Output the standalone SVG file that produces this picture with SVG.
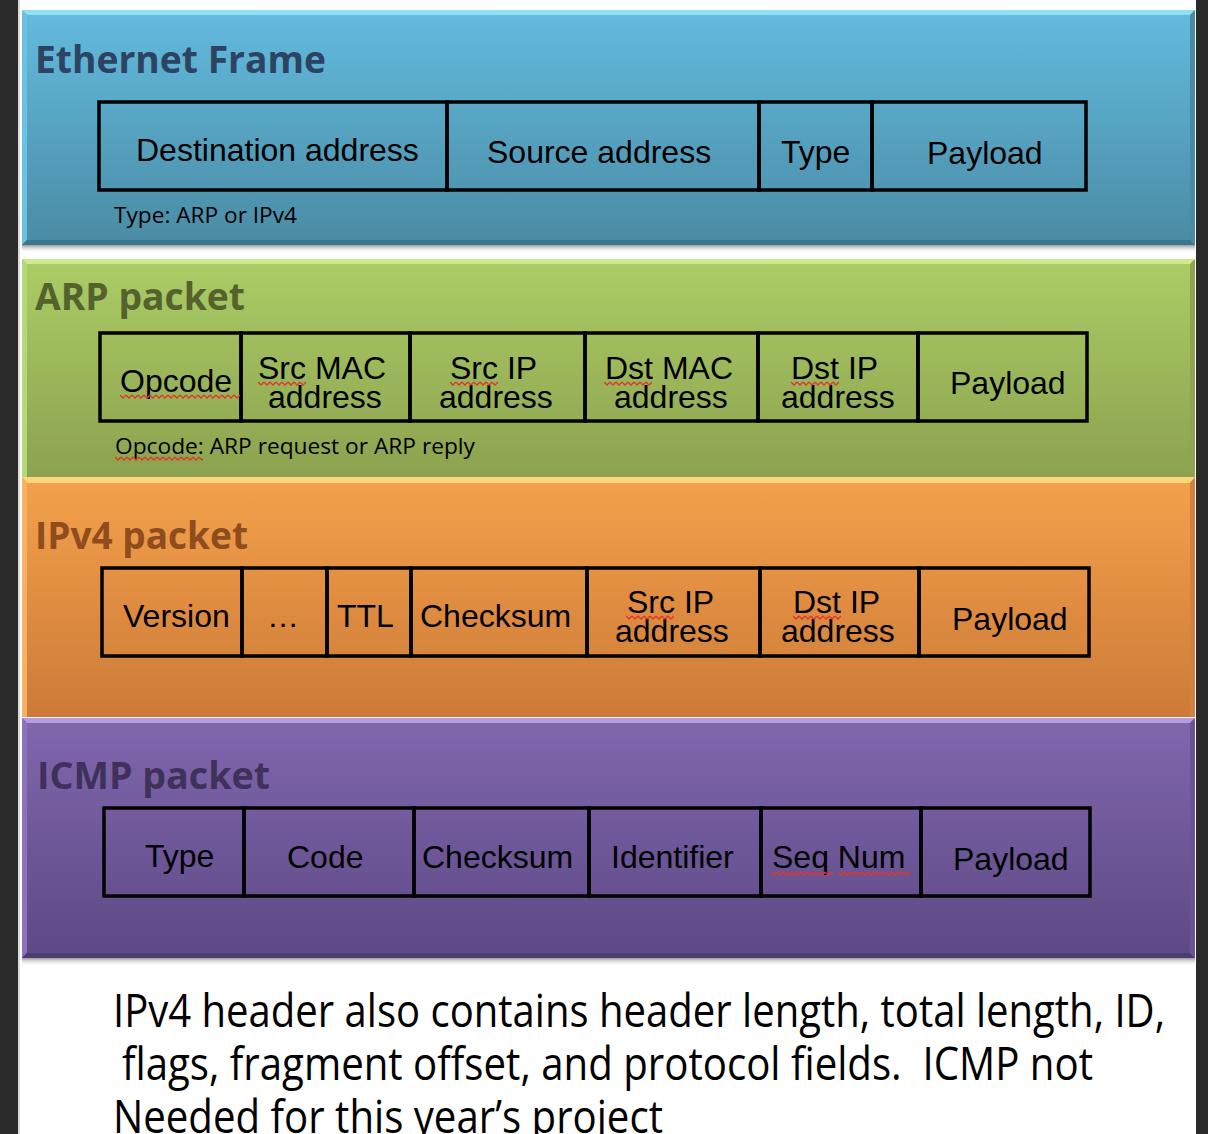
<svg xmlns="http://www.w3.org/2000/svg" width="1208" height="1134" viewBox="0 0 1208 1134">
<defs>
  <linearGradient id="gBlue" x1="0" y1="0" x2="0" y2="1"><stop offset="0" stop-color="#63bbdf"/><stop offset="1" stop-color="#4a8ba4"/></linearGradient>
  <linearGradient id="gGreen" x1="0" y1="0" x2="0" y2="1"><stop offset="0" stop-color="#abcd66"/><stop offset="1" stop-color="#8ca24f"/></linearGradient>
  <linearGradient id="gOrange" x1="0" y1="0" x2="0" y2="1"><stop offset="0" stop-color="#f4a14c"/><stop offset="1" stop-color="#cd7a38"/></linearGradient>
  <linearGradient id="gPurple" x1="0" y1="0" x2="0" y2="1"><stop offset="0" stop-color="#8167af"/><stop offset="1" stop-color="#5d4984"/></linearGradient>
  <linearGradient id="gShadow" x1="0" y1="0" x2="0" y2="1"><stop offset="0" stop-color="#9a9a9a"/><stop offset="1" stop-color="#ffffff" stop-opacity="0"/></linearGradient>
  <pattern id="wavy" width="6" height="5" patternUnits="userSpaceOnUse"><path d="M0,1 L3,4 L6,1" fill="none" stroke="#e0362b" stroke-width="1.3"/></pattern>
</defs>
<style>
  .cell{fill:none;stroke:#000;stroke-width:3.5}
  .lbl{font-family:"Liberation Sans",Arial,sans-serif;font-size:32px;fill:#000}
  .title{font-family:"Open Sans","Liberation Sans",sans-serif;font-weight:bold;font-size:38px}
  .note{font-family:"Open Sans","Liberation Sans",sans-serif;font-size:22px;fill:#000}
  .body{font-family:"Open Sans","Liberation Sans",sans-serif;font-size:45px;fill:#000}
</style>

<rect x="0" y="0" width="1208" height="1134" fill="#ffffff"/>
<rect x="0" y="0" width="18" height="1134" fill="#2b2b2b"/>
<rect x="18" y="0" width="2" height="1134" fill="#dcdcdc"/>
<rect x="1196" y="0" width="12" height="1134" fill="#2b2b2b"/>

<!-- Ethernet frame panel -->
<g id="ethernet">
  <rect x="22" y="245" width="1173" height="8" fill="url(#gShadow)"/>
  <rect x="22" y="10" width="1173" height="235" fill="url(#gBlue)"/>
  <polygon points="22,10 1195,10 1190,15 27,15" fill="#8fdff5"/>
  <polygon points="22,10 27,15 27,240 22,245" fill="#6cc0e0"/>
  <polygon points="22,245 1195,245 1190,240 27,240" fill="#3c768d"/>
  <polygon points="1195,10 1195,245 1190,240 1190,15" fill="#4a8aa3"/>
  <text class="title" x="35" y="73" fill="#2c4361" textLength="291" lengthAdjust="spacingAndGlyphs">Ethernet Frame</text>
  <g id="eth-dst"><rect class="cell" x="99" y="102" width="348" height="88"/><text class="lbl" x="136" y="161">Destination address</text></g>
  <g id="eth-src"><rect class="cell" x="447" y="102" width="312" height="88"/><text class="lbl" x="487" y="163">Source address</text></g>
  <g id="eth-type"><rect class="cell" x="759" y="102" width="113" height="88"/><text class="lbl" x="781" y="163">Type</text></g>
  <g id="eth-payload"><rect class="cell" x="872" y="102" width="214" height="88"/><text class="lbl" x="927" y="164">Payload</text></g>
  <text class="note" x="114" y="223" textLength="183" lengthAdjust="spacingAndGlyphs">Type: ARP or IPv4</text>
</g>

<!-- ARP packet panel -->
<g id="arp">
  <rect x="22" y="259" width="1173" height="218" fill="url(#gGreen)"/>
  <polygon points="22,259 1195,259 1190,264 27,264" fill="#cdeb8e"/>
  <polygon points="22,259 27,264 27,477 22,477" fill="#b6d67a"/>
  <polygon points="1195,259 1195,477 1190,477 1190,264" fill="#8da450"/>
  <text class="title" x="35" y="310" fill="#55622d" textLength="210" lengthAdjust="spacingAndGlyphs">ARP packet</text>
  <g id="arp-opcode"><rect class="cell" x="100" y="333" width="141" height="88"/><text class="lbl" x="120" y="392">Opcode</text></g>
  <g id="arp-srcmac"><rect class="cell" x="241" y="333" width="169" height="88"/><text class="lbl"><tspan x="258" y="379">Src MAC</tspan><tspan x="268" y="408">address</tspan></text></g>
  <g id="arp-srcip"><rect class="cell" x="410" y="333" width="175" height="88"/><text class="lbl"><tspan x="450" y="379">Src IP</tspan><tspan x="439" y="408">address</tspan></text></g>
  <g id="arp-dstmac"><rect class="cell" x="585" y="333" width="173" height="88"/><text class="lbl"><tspan x="605" y="379">Dst MAC</tspan><tspan x="614" y="408">address</tspan></text></g>
  <g id="arp-dstip"><rect class="cell" x="758" y="333" width="160" height="88"/><text class="lbl"><tspan x="791" y="379">Dst IP</tspan><tspan x="781" y="408">address</tspan></text></g>
  <g id="arp-payload"><rect class="cell" x="918" y="333" width="169" height="88"/><text class="lbl" x="950" y="394">Payload</text></g>
  <text class="note" x="115" y="454" textLength="360" lengthAdjust="spacingAndGlyphs">Opcode: ARP request or ARP reply</text>
  <g id="arp-spell">
    <rect x="0" y="0" width="120" height="5" fill="url(#wavy)" transform="translate(120,394)"/>
    <rect x="0" y="0" width="48" height="5" fill="url(#wavy)" transform="translate(258,381)"/>
    <rect x="0" y="0" width="48" height="5" fill="url(#wavy)" transform="translate(450,381)"/>
    <rect x="0" y="0" width="48" height="5" fill="url(#wavy)" transform="translate(604,381)"/>
    <rect x="0" y="0" width="48" height="5" fill="url(#wavy)" transform="translate(791,381)"/>
    <rect x="0" y="0" width="88" height="5" fill="url(#wavy)" transform="translate(115,456)"/>
  </g>
</g>

<!-- IPv4 packet panel -->
<g id="ipv4">
  <rect x="22" y="477" width="1173" height="240" fill="url(#gOrange)"/>
  <polygon points="22,477 1195,477 1190,483 27,483" fill="#ffd57c"/>
  <polygon points="22,477 27,483 27,717 22,717" fill="#f8b063"/>
  <polygon points="1195,477 1195,717 1190,717 1190,483" fill="#d3813e"/>
  <text class="title" x="35" y="549" fill="#8f4d1d" textLength="213" lengthAdjust="spacingAndGlyphs">IPv4 packet</text>
  <g id="ip-version"><rect class="cell" x="102" y="568" width="140" height="88"/><text class="lbl" x="123" y="627">Version</text></g>
  <g id="ip-more"><rect class="cell" x="242" y="568" width="85" height="88"/><text class="lbl" x="267" y="627">…</text></g>
  <g id="ip-ttl"><rect class="cell" x="327" y="568" width="84" height="88"/><text class="lbl" x="337" y="627">TTL</text></g>
  <g id="ip-checksum"><rect class="cell" x="411" y="568" width="176" height="88"/><text class="lbl" x="420" y="627">Checksum</text></g>
  <g id="ip-srcip"><rect class="cell" x="587" y="568" width="173" height="88"/><text class="lbl"><tspan x="627" y="613">Src IP</tspan><tspan x="615" y="642">address</tspan></text></g>
  <g id="ip-dstip"><rect class="cell" x="760" y="568" width="159" height="88"/><text class="lbl"><tspan x="793" y="613">Dst IP</tspan><tspan x="781" y="642">address</tspan></text></g>
  <g id="ip-payload"><rect class="cell" x="919" y="568" width="170" height="88"/><text class="lbl" x="952" y="630">Payload</text></g>
  <g id="ip-spell">
    <rect x="0" y="0" width="48" height="5" fill="url(#wavy)" transform="translate(626,615)"/>
    <rect x="0" y="0" width="48" height="5" fill="url(#wavy)" transform="translate(793,615)"/>
  </g>
</g>

<!-- ICMP packet panel -->
<g id="icmp">
  <rect x="22" y="958" width="1173" height="8" fill="url(#gShadow)"/>
  <rect x="22" y="718" width="1173" height="240" fill="url(#gPurple)"/>
  <polygon points="22,718 1195,718 1190,723 27,723" fill="#b39ddf"/>
  <polygon points="22,718 27,723 27,953 22,958" fill="#8c72bb"/>
  <polygon points="22,958 1195,958 1190,953 27,953" fill="#4d3c70"/>
  <polygon points="1195,718 1195,958 1190,953 1190,723" fill="#6a5494"/>
  <text class="title" x="37" y="789" fill="#3f315a" textLength="233" lengthAdjust="spacingAndGlyphs">ICMP packet</text>
  <g id="icmp-type"><rect class="cell" x="104" y="808" width="140" height="88"/><text class="lbl" x="145" y="867">Type</text></g>
  <g id="icmp-code"><rect class="cell" x="244" y="808" width="170" height="88"/><text class="lbl" x="287" y="868">Code</text></g>
  <g id="icmp-checksum"><rect class="cell" x="414" y="808" width="175" height="88"/><text class="lbl" x="422" y="868">Checksum</text></g>
  <g id="icmp-identifier"><rect class="cell" x="589" y="808" width="172" height="88"/><text class="lbl" x="611" y="868">Identifier</text></g>
  <g id="icmp-seq"><rect class="cell" x="761" y="808" width="160" height="88"/><text class="lbl" x="772" y="868">Seq Num</text></g>
  <g id="icmp-payload"><rect class="cell" x="921" y="808" width="169" height="88"/><text class="lbl" x="953" y="870">Payload</text></g>
  <g id="icmp-spell">
    <rect x="0" y="0" width="62" height="5" fill="url(#wavy)" transform="translate(771,871)"/>
    <rect x="0" y="0" width="72" height="5" fill="url(#wavy)" transform="translate(838,871)"/>
  </g>
</g>

<!-- connectors: none in this diagram -->
<g id="connectors"/>

<!-- footnote text -->
<g id="footnote">
  <text class="body" x="113" y="1027" textLength="1052" lengthAdjust="spacingAndGlyphs">IPv4 header also contains header length, total length, ID,</text>
  <text class="body" x="122" y="1080" textLength="971" lengthAdjust="spacingAndGlyphs" xml:space="preserve">flags, fragment offset, and protocol fields.  ICMP not</text>
  <text class="body" x="113" y="1133" textLength="550" lengthAdjust="spacingAndGlyphs">Needed for this year’s project</text>
</g>
</svg>
